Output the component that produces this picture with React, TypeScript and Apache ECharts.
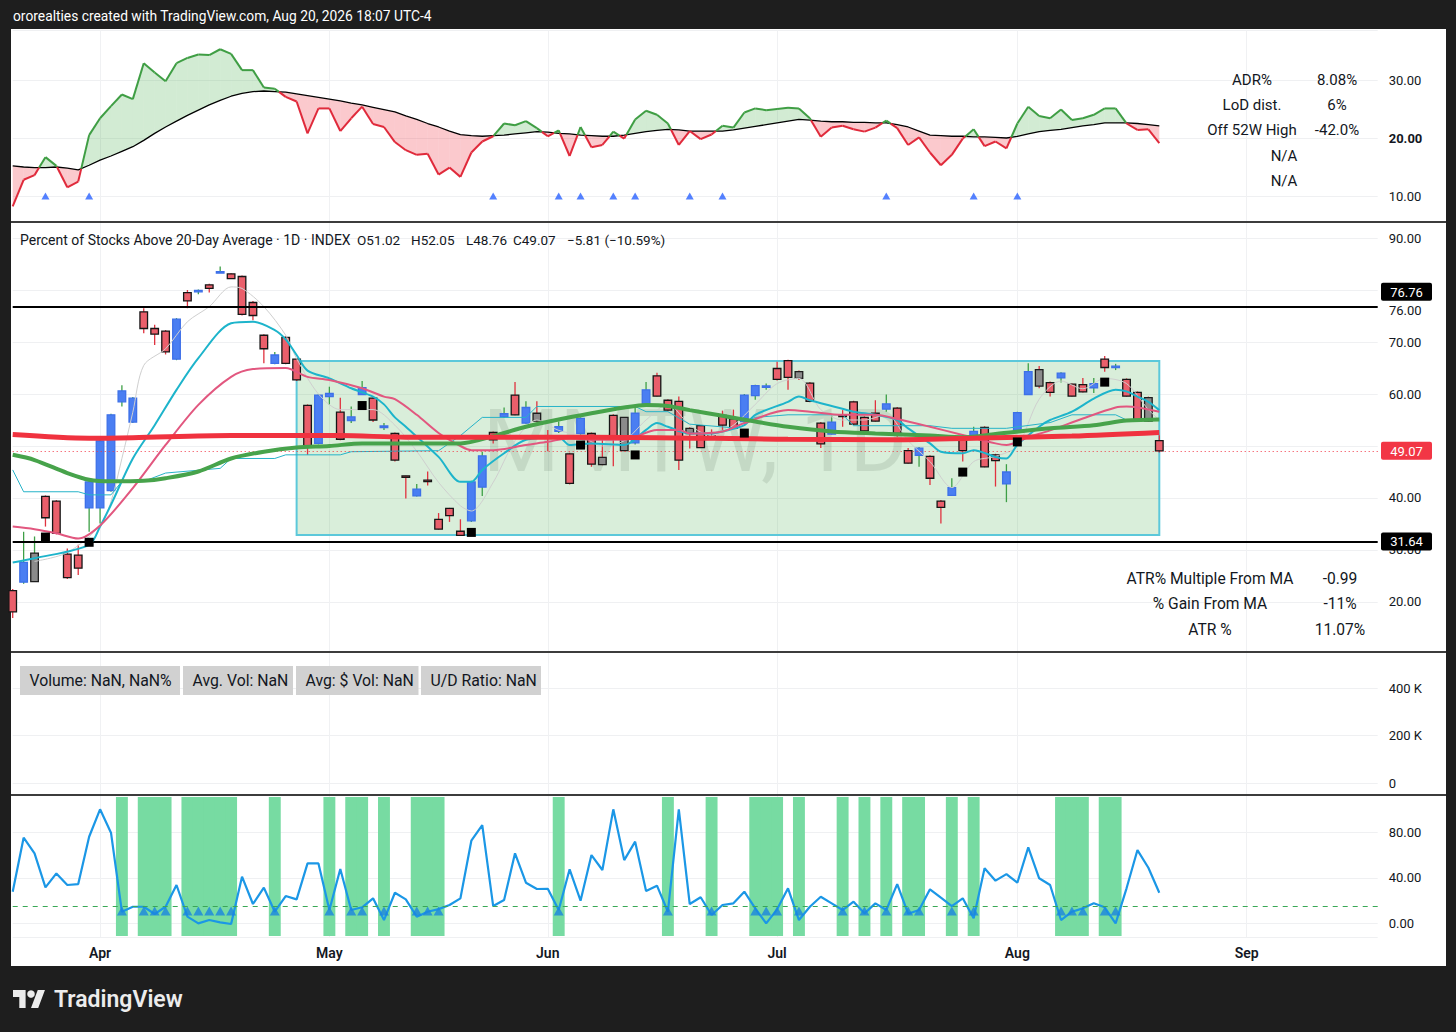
import React, { useEffect, useRef } from 'react';
import * as echarts from 'echarts';

const FONT = 'Roboto, "Noto Sans", sans-serif';
const INK = '#131722';

// ---------- calendar (category axis) ----------
const HOLIDAYS = ['2026-04-03', '2026-05-25', '2026-06-19', '2026-07-03', '2026-09-07'];
const FIRST_DAY = '2026-03-20';
const SLOT_COUNT = 126;
const MONTHS = ['Jan', 'Feb', 'Mar', 'Apr', 'May', 'Jun', 'Jul', 'Aug', 'Sep', 'Oct', 'Nov', 'Dec'];

function tradingDays(): string[] {
  const out: string[] = [];
  let t = Date.parse(FIRST_DAY + 'T00:00:00Z');
  while (out.length < SLOT_COUNT) {
    const d = new Date(t);
    const wd = d.getUTCDay();
    const iso = d.toISOString().slice(0, 10);
    if (wd !== 0 && wd !== 6 && HOLIDAYS.indexOf(iso) < 0) out.push(iso);
    t += 86400000;
  }
  return out;
}
const DATES = tradingDays();
const MONTH_START = new Set<number>();
DATES.forEach((d, i) => { if (i > 0 && d.slice(5, 7) !== DATES[i - 1].slice(5, 7)) MONTH_START.add(i); });

// ---------- main series: Percent of Stocks Above 20-Day Average ----------
const OPEN = [22.2,23.8,23.9,40.3,39.4,29.2,29.0,38.1,38.1,41.4, 58.5,54.6,75.8,72.6,72.1,66.7,79.5,79.7,81.0,83.3, 83.1,82.6,77.6,71.3,65.9,70.9,66.7,57.8,50.5,59.5, 56.5,54.9,59.9,59.2,53.6,52.4,44.2,40.4,43.4,35.9, 38.0,33.6,35.6,42.1,52.6,55.6,59.8,54.4,56.3,52.0, 52.8,48.5,52.4,52.4,47.8,55.9,55.5,50.6,58.1,63.5, 58.8,58.6,53.4,53.9,52.0,55.9,55.2,54.7,59.7,61.3, 64.9,66.4,64.3,62.1,54.4,52.3,55.9,58.5,55.5,56.3, 57.1,57.3,49.1,48.2,48.0,39.4,40.5,51.5,51.3,53.6, 48.3,42.7,53.0,59.9,64.7,62.2,63.1,61.9,61.8,61.2, 66.7,65.1,62.8,60.3,59.3,51.02];
const HIGH = [22.5,33.5,32.6,40.5,39.6,30.3,31.0,43.3,51.2,56.2, 61.7,59.4,76.5,73.3,72.3,74.6,80.0,80.1,81.2,84.5, 83.2,82.8,77.9,71.5,68.1,71.1,66.9,58.0,60.0,61.4, 59.3,57.6,62.5,59.4,54.4,52.6,44.3,42.7,45.1,37.1, 38.1,35.9,43.3,48.9,52.8,57.4,62.3,58.6,58.6,53.1, 54.7,48.7,55.5,52.6,51.5,56.1,55.6,57.6,62.3,64.1, 59.0,59.5,53.6,54.0,53.2,56.8,57.0,60.0,61.8,62.0, 66.2,66.6,64.5,62.3,54.6,55.8,56.9,58.7,55.7,58.8, 59.9,57.5,49.6,49.8,48.2,39.6,43.8,51.7,53.7,53.8, 48.5,46.5,56.6,65.9,65.4,62.4,64.2,62.0,63.1,63.1, 67.3,65.8,63.0,60.5,59.5,52.05];
const LOW = [16.9,23.5,23.9,34.5,33.0,24.4,25.2,33.5,35.1,41.2, 57.6,54.4,71.7,69.4,67.6,66.5,76.5,79.2,79.5,83.3, 82.1,75.1,74.2,65.9,65.7,65.7,62.5,48.3,50.3,57.9, 51.1,54.4,59.8,54.6,53.1,47.0,39.9,40.3,42.4,33.9, 35.4,32.7,35.4,40.4,50.5,55.4,55.9,54.3,54.7,49.0, 52.5,42.6,52.2,46.0,46.3,46.1,49.0,50.3,58.0,59.5, 56.7,45.4,49.5,49.6,51.3,53.1,53.3,54.5,58.9,60.8, 62.6,60.8,62.7,58.4,49.6,52.2,53.7,54.0,52.7,54.7, 56.6,51.8,46.6,46.0,42.5,35.1,40.4,47.0,51.2,45.9, 42.2,39.2,52.8,59.8,61.1,59.5,62.2,59.5,60.3,60.2, 64.3,64.6,59.5,54.7,54.7,48.76];
const CLOSE = [18.1,27.6,29.4,36.2,33.2,24.7,26.5,43.1,51.0,56.0, 60.6,59.2,72.6,71.5,68.1,74.4,77.9,79.9,80.3,83.5, 82.2,75.3,75.1,68.7,67.5,65.9,62.7,49.9,59.8,60.1, 51.3,55.6,61.2,55.0,53.8,47.3,44.0,41.7,43.2,34.0, 36.6,32.8,43.1,48.1,51.2,56.2,56.0,57.4,54.8,51.5, 53.7,42.8,55.3,46.5,46.4,51.9,49.1,56.3,60.8,59.6, 56.9,47.3,52.4,49.7,51.5,54.0,53.4,59.8,61.6,61.5, 62.8,63.2,63.0,58.6,50.4,54.6,55.7,54.2,52.9,54.8, 58.1,52.4,46.7,49.6,43.8,38.2,42.0,49.1,52.8,46.0, 47.2,45.0,56.4,64.3,61.5,60.3,64.0,59.6,60.4,62.0, 65.1,65.3,59.6,54.8,54.8,49.07];
// r = red, b = blue, u = grey (up), d = grey (down)
const CANDLE_KIND = 'rburrrrbbb' + 'bbrrrbrbrb' + 'rrrrbrrrbb' + 'rbbrbrrbrr' + 'rrbbrbrbdr' + 'brbrdrdbbr' + 'rrdrrrrbbb' + 'rrdrrbrrrr' + 'brrbrrbrbr' + 'rbbbdrbrrb' + 'rbrrdr';
const SQUARE_MARKERS = [3, 7, 32, 42, 52, 57, 67, 87, 92, 100];

// moving averages: [bar index, value]
const MA_FAST = [[2,27.8],[5,29.5],[8,34.7],[9,39.3],[10,47.6],[11,56.5],[12,65.5],[14,68.7],[16,73.9],[18,76.8],[20,80.6],[21,80.3],[23,76.8],[25,71.3],[26,66.8],[28,60.0],[30,57.0],[33,57.0],[35,54.0],[37,49.0],[39,43.0],[41,38.5],[42,37.5],[44,43.0],[46,51.0],[48,55.0],[50,53.0],[52,52.0],[54,50.0],[56,51.0],[58,55.0],[60,58.0],[62,54.0],[64,52.0],[66,54.0],[68,58.0],[70,62.0],[72,63.0],[74,57.0],[76,55.0],[78,55.0],[80,56.0],[82,51.0],[84,47.0],[86,42.0],[88,47.0],[90,48.0],[92,50.0],[94,59.0],[96,62.5],[98,61.0],[100,63.0],[102,62.0],[104,57.0],[105,55.0]];
const MA_10 = [[0,27.6],[2,28.4],[7,31.0],[8,34.5],[9,38.7],[11,47.6],[13,54.0],[15,60.8],[17,66.9],[20,73.6],[22,73.9],[24,72.3],[25,70.5],[26,67.5],[27,64.5],[29,63.0],[31,61.1],[33,59.5],[34,58.0],[35,55.5],[36,53.7],[39,47.9],[41,43.1],[42,43.1],[43,45.4],[45,48.6],[47,51.2],[50,51.7],[51,50.2],[53,50.5],[56,50.2],[58,53.1],[59,54.4],[60,53.7],[62,52.4],[64,52.4],[65,52.8],[67,54.0],[68,56.0],[71,58.5],[72,59.5],[73,58.8],[75,57.7],[77,56.6],[79,56.0],[81,55.0],[82,53.4],[84,50.5],[85,48.9],[87,48.6],[88,49.2],[90,47.9],[91,47.6],[92,50.2],[94,53.7],[95,55.0],[97,56.6],[99,59.1],[101,60.8],[102,60.5],[103,59.5],[104,58.5],[105,56.9]];
const MA_20 = [[0,34.5],[2,34.0],[4,33.2],[6,32.2],[8,34.7],[11,41.9],[14,50.2],[17,57.9],[20,63.3],[22,64.8],[25,65.0],[27,63.3],[29,62.7],[32,61.1],[34,59.5],[35,59.0],[37,56.0],[39,52.5],[41,50.0],[42,49.2],[44,49.2],[47,50.2],[49,50.8],[51,51.5],[53,51.2],[56,51.2],[59,53.1],[61,53.1],[62,52.4],[65,52.8],[67,54.4],[71,56.9],[73,56.6],[76,56.0],[79,56.0],[81,55.2],[84,53.7],[87,52.1],[90,50.5],[91,50.2],[93,51.7],[95,53.0],[98,55.3],[101,57.4],[102,57.6],[105,56.6]];
const MA_50 = [[0,48.3],[2,47.3],[5,44.8],[7,43.5],[9,43.2],[12,43.3],[14,43.8],[17,45.1],[20,47.6],[23,48.9],[26,49.7],[29,50.0],[32,50.5],[35,50.5],[41,50.5],[44,51.9],[47,53.7],[50,55.1],[53,56.3],[56,57.4],[58,57.9],[60,57.7],[62,56.9],[65,55.8],[68,54.7],[71,53.7],[75,52.8],[79,52.4],[84,52.0],[87,51.7],[90,52.3],[95,53.4],[99,54.0],[102,54.9],[105,55.1]];
const MA_200 = [[0,52.2],[7,51.5],[11,51.6],[20,52.0],[30,52.0],[36,51.7],[53,51.7],[71,51.3],[80,51.2],[88,51.5],[97,51.9],[105,52.6]];
const BAND_LOW = [[0,45.4],[1,41.2],[6,41.2],[7,40.6],[9,40.6],[10,43.2],[12,43.2],[14,44.8],[19,45.7],[20,47.6],[24,47.6],[25,48.3],[30,48.3],[31,48.9],[39,49.1],[41,52.0],[43,55.5],[47,55.5],[48,57.6],[57,57.6],[58,56.6],[60,56.6],[61,55.4],[62,54.2],[66,53.5],[68,55.5],[71,56.0],[76,56.0],[77,53.9],[84,53.9],[86,53.4],[91,53.4],[95,54.5],[97,56.0],[101,56.0],[102,55.0],[105,55.0]];

// drawings and price levels
const BOX_X = [26, 105];
const BOX_Y = [66.35, 32.9];
const RESISTANCE = 76.76;
const SUPPORT = 31.64;
const LAST_CLOSE = 49.07;
const EXTRA_SCALE_LABEL = 76;

// ---------- top pane: ADR-style line and its average ----------
const ADR_LINE = [8.2,12.8,13.6,16.7,15.2,11.5,12.5,20.5,23.4,25.5, 27.5,26.7,32.9,31.3,29.8,32.9,33.8,34.4,34.3,35.3, 34.5,31.7,31.7,28.7,28.5,27.1,26.3,20.8,25.1,25.1, 21.2,23.4,25.4,22.4,21.9,19.3,17.9,17.1,17.3,13.7, 14.9,13.3,17.5,19.4,20.3,22.5,22.2,22.9,21.7,20.3, 21.3,16.9,21.9,18.4,18.8,21.1,19.9,23.2,24.7,24.0, 22.5,18.8,21.2,19.8,20.6,22.1,21.8,24.4,25.1,24.8, 25.0,25.2,25.1,23.4,20.2,21.8,22.1,21.5,21.1,21.8, 23.0,21.7,18.8,20.1,17.5,15.3,17.1,19.9,21.5,18.6, 19.4,18.2,22.5,25.4,23.8,23.4,24.9,23.1,23.4,24.0, 25.1,25.1,22.5,21.4,21.5,19.1];
const ADR_AVG = [15.2,15.0,14.9,14.9,15.0,14.8,14.5,15.3,16.2,16.9, 17.7,18.5,19.6,20.8,21.9,22.9,23.9,24.8,25.7,26.5, 27.2,27.7,28.0,28.1,28.0,27.9,27.6,27.3,27.0,26.7, 26.4,26.0,25.7,25.3,24.9,24.5,23.8,23.2,22.5,21.9, 21.2,20.6,20.4,20.3,20.4,20.5,20.7,20.9,21.1,21.0, 20.8,20.7,20.5,20.4,20.3,20.3,20.5,20.8,21.1,21.3, 21.5,21.4,21.2,21.2,21.2,21.2,21.4,21.7,22.0,22.3, 22.6,22.9,23.2,23.1,22.9,22.8,22.8,22.7,22.7,22.6, 22.6,22.3,21.9,21.2,20.5,20.4,20.3,20.3,20.2,20.2, 20.1,20.0,20.3,20.7,21.1,21.3,21.5,21.8,22.1,22.3, 22.6,22.6,22.6,22.5,22.3,22.1];
const TOP_TRIANGLES = [3, 7, 44, 50, 52, 55, 57, 62, 65, 80, 88, 92];
const TOP_TRIANGLE_LEVEL = 10;

// ---------- bottom pane ----------
const OSC = [27.8,75.3,61.5,31.6,43.9,33.7,34.5,76.1,100.2,79.7, 10.2,14.6,14.6,8.2,14.6,33.7,5.9,0,2.9,0.9, -0.6,41.0,17.0,31.3,10.2,24.0,21.1,52.7,52.7,11.7, 47.7,11.7,14.1,22.0,2.9,26.9,21.1,5.9,10.2,12.5, 16.1,22.0,72.6,86.4,15.2,20.5,61.5,35.7,30.2,30.3, 11.7,47.5,19.9,60.0,46.9,100.2,55.6,71.8,28.4,33.1, 10.2,100.2,17.0,22.9,7.3,16.1,17.6,27.8,13.2,0, 12.3,30.8,2.9,14.6,23.4,17.6,11.7,19.0,8.8,17.6, 11.7,34.5,8.5,11.7,29.9,22.5,15.2,22.0,4.4,48.4, 37.5,43.3,35.7,66.8,39.6,33.7,2.9,10.2,13.2,17.6, 14.1,0,30.8,64.4,48.9,26.9];
const OSC_SIGNALS = [10,12,13,14,16,17,18,19,20,24,29,31,32,34,37,38,39,50,60,64,68,69,70,72,76,78,80,82,83,86,88,96,97,98,100,101];
const OSC_THRESHOLD = 15;
const OSC_TRIANGLE_LEVEL = 10.8;

// ---------- text ----------
const HEADER = 'ororealties created with TradingView.com, Aug 20, 2026 18:07 UTC-4';
const TITLE = 'Percent of Stocks Above 20-Day Average · 1D · INDEX';
const OHLC_TEXT = ['O51.02', 'H52.05', 'L48.76', 'C49.07', '−5.81 (−10.59%)'];
const TOP_TABLE = [['ADR%', '8.08%'], ['LoD dist.', '6%'], ['Off 52W High', '-42.0%']];
const TOP_TABLE_NA = ['N/A', 'N/A'];
const MAIN_TABLE = [['ATR% Multiple From MA', '-0.99'], ['% Gain From MA', '-11%'], ['ATR %', '11.07%']];
const VOLUME_LABELS = ['Volume: NaN, NaN%', 'Avg. Vol: NaN', 'Avg: $ Vol: NaN', 'U/D Ratio: NaN'];
const WATERMARK = 'MMTW, 1D';

const TV_LOGO_D = 'M14 22H7V11H0V4h14v18zM28 22h-8l7.5-18h8L28 22z';
echarts.graphic.registerShape('tvlogo', (echarts.graphic as any).extendPath(TV_LOGO_D, {}));

// ---------- layout ----------
const PLOT_LEFT = 12.7;
const PLOT_RIGHT = 78.3;
const KIND_STYLE: Record<string, any> = {
  r: { fill: '#ea5f6b', border: '#161616', wick: '#e0323f' },
  b: { fill: '#4a7ef2', border: '#3d70e8', wick: '#3d9f46' },
  u: { fill: '#8b8b8b', border: '#1e1e1e', wick: '#3d9f46' },
  d: { fill: '#8b8b8b', border: '#1e1e1e', wick: '#e0323f' },
};

function xAxisFor(gridIndex: number, showLabels: boolean) {
  return {
    type: 'category', gridIndex, data: DATES, boundaryGap: false,
    axisLine: { show: false }, axisTick: { show: false },
    axisLabel: {
      show: showLabels, interval: (i: number) => MONTH_START.has(i),
      formatter: (v: string) => MONTHS[Number(v.slice(5, 7)) - 1],
      color: INK, fontSize: 14, fontWeight: 600, margin: 9, fontFamily: FONT,
    },
    splitLine: { show: true, interval: (i: number) => MONTH_START.has(i), lineStyle: { color: '#f0f1f3', width: 1 } },
  };
}

function yAxisFor(gridIndex: number, min: number, max: number, step: number, fmt: any, rich?: any) {
  return {
    type: 'value', gridIndex, position: 'right', min, max, minInterval: step, maxInterval: step, splitNumber: 4,
    axisLine: { show: false }, axisTick: { show: false },
    axisLabel: { formatter: fmt, color: INK, fontSize: 13, margin: 11, fontFamily: FONT, showMinLabel: false, showMaxLabel: false, rich },
    splitLine: { lineStyle: { color: '#eff0f2', width: 1 } },
  };
}

const isMult = (v: number, s: number) => Math.abs(v / s - Math.round(v / s)) < 1e-6;

function adrSegment(api: any, i: number, mode: 'fill' | 'line') {
  const c0 = ADR_LINE[i], c1 = ADR_LINE[i + 1], b0 = ADR_AVG[i], b1 = ADR_AVG[i + 1];
  const C0 = api.coord([i, c0]), C1 = api.coord([i + 1, c1]);
  const B0 = api.coord([i, b0]), B1 = api.coord([i + 1, b1]);
  const d0 = c0 - b0, d1 = c1 - b1;
  const fillOf = (d: number) => (d >= 0 ? 'rgba(76,175,80,0.25)' : 'rgba(242,54,69,0.27)');
  const lineOf = (d: number) => (d >= 0 ? '#3f9e44' : '#e02a3b');
  const kids: any[] = [];
  const poly = (pts: number[][], d: number) => kids.push({ type: 'polygon', shape: { points: pts }, style: { fill: fillOf(d) } });
  const pl = (pts: number[][], d: number) => kids.push({ type: 'polyline', shape: { points: pts }, style: { stroke: lineOf(d), lineWidth: 2, fill: null } });
  if (d0 * d1 < 0) {
    const t = d0 / (d0 - d1);
    const X = [C0[0] + t * (C1[0] - C0[0]), C0[1] + t * (C1[1] - C0[1])];
    if (mode === 'fill') { poly([C0, X, B0], d0); poly([X, C1, B1], d1); }
    else { pl([C0, X], d0); pl([X, C1], d1); }
  } else {
    const s = Math.abs(d0) > Math.abs(d1) ? d0 : d1;
    if (mode === 'fill') poly([C0, C1, B1, B0], s);
    else pl([C0, C1], s);
  }
  return { type: 'group', children: kids };
}

function buildOption() {
  const segs = ADR_LINE.slice(0, -1).map((v, i) => [i, v]);
  const candles = OPEN.map((o, i) => [i, o, HIGH[i], LOW[i], CLOSE[i]]);
  return {
    animation: false,
    textStyle: { fontFamily: FONT },
    grid: [
      { left: PLOT_LEFT, right: PLOT_RIGHT, top: 30, height: 192, containLabel: false, outerBoundsMode: 'none' },
      { left: PLOT_LEFT, right: PLOT_RIGHT, top: 222, height: 430, containLabel: false, outerBoundsMode: 'none' },
      { left: PLOT_LEFT, right: PLOT_RIGHT, top: 652, height: 143, containLabel: false, outerBoundsMode: 'none' },
      { left: PLOT_LEFT, right: PLOT_RIGHT, top: 795, height: 142, containLabel: false, outerBoundsMode: 'none' },
    ],
    xAxis: [xAxisFor(0, false), xAxisFor(1, false), xAxisFor(2, false), xAxisFor(3, true)],
    yAxis: [
      yAxisFor(0, 5.52, 38.62, 10, (v: number) => (isMult(v, 10) && v >= 10 && v <= 30 ? (v === 20 ? '{b|20.00}' : v.toFixed(2)) : ''),
        { b: { fontWeight: 'bold', fontSize: 13, color: INK, fontFamily: FONT } }),
      // 50.00 and 80.00 sit under the price tags in the reference, so they are left blank
      yAxisFor(1, 10.38, 93.08, 10, (v: number) => (isMult(v, 10) && v >= 20 && v <= 90 && v !== 50 && v !== 80 ? v.toFixed(2) : '')),
      yAxisFor(2, -50500, 551600, 200000, (v: number) => (isMult(v, 200000) && v >= 0 && v <= 400000 ? (v === 0 ? '0' : v / 1000 + ' K') : '')),
      yAxisFor(3, -12.0, 112.8, 40, (v: number) => (isMult(v, 40) && v >= 0 && v <= 80 ? v.toFixed(2) : '')),
    ],
    series: [
      // ----- top pane -----
      {
        type: 'custom', name: 'adrFill', xAxisIndex: 0, yAxisIndex: 0, z: 2, silent: true,
        data: segs, encode: { x: 0, y: 1 },
        renderItem: (_p: any, api: any) => adrSegment(api, api.value(0), 'fill'),
      },
      {
        type: 'line', name: 'adrAvg', xAxisIndex: 0, yAxisIndex: 0, z: 3, silent: true,
        data: ADR_AVG, symbol: 'none', lineStyle: { color: '#000', width: 1.3 },
      },
      {
        type: 'custom', name: 'adrLine', xAxisIndex: 0, yAxisIndex: 0, z: 4, silent: true,
        data: segs, encode: { x: 0, y: 1 },
        renderItem: (_p: any, api: any) => adrSegment(api, api.value(0), 'line'),
      },
      {
        type: 'scatter', name: 'topSignals', xAxisIndex: 0, yAxisIndex: 0, z: 5, silent: true,
        data: TOP_TRIANGLES.map((i) => [i, TOP_TRIANGLE_LEVEL]), symbol: 'triangle', symbolSize: [8, 7],
        itemStyle: { color: '#2962ff' },
      },
      // ----- main pane -----
      {
        type: 'custom', name: 'box', xAxisIndex: 1, yAxisIndex: 1, z: 2, silent: true,
        data: [[BOX_X[0], BOX_Y[0], BOX_X[1], BOX_Y[1]]], encode: { x: [0, 2], y: [1, 3] },
        renderItem: (_p: any, api: any) => {
          const a = api.coord([api.value(0), api.value(1)]);
          const b = api.coord([api.value(2), api.value(3)]);
          return {
            type: 'rect', shape: { x: a[0], y: a[1], width: b[0] - a[0], height: b[1] - a[1] },
            style: { fill: 'rgba(76,175,80,0.21)', stroke: '#5cc8da', lineWidth: 2 },
          };
        },
      },
      {
        type: 'custom', name: 'candles', xAxisIndex: 1, yAxisIndex: 1, z: 3, silent: true,
        data: candles, encode: { x: 0, y: [1, 2, 3, 4] },
        renderItem: (_p: any, api: any) => {
          const i = api.value(0);
          const o = api.value(1), h = api.value(2), l = api.value(3), c = api.value(4);
          const st = KIND_STYLE[CANDLE_KIND[i]];
          const pO = api.coord([i, o]), pC = api.coord([i, c]), pH = api.coord([i, h]), pL = api.coord([i, l]);
          const x = pO[0];
          let top = Math.min(pO[1], pC[1]);
          let hgt = Math.abs(pO[1] - pC[1]);
          if (hgt < 1.5) { top -= (1.5 - hgt) / 2; hgt = 1.5; }
          return {
            type: 'group', children: [
              { type: 'line', shape: { x1: x, y1: pH[1], x2: x, y2: pL[1] }, style: { stroke: st.wick, lineWidth: 1.3 } },
              { type: 'rect', shape: { x: x - 3.8, y: top, width: 7.6, height: hgt }, style: { fill: st.fill, stroke: st.border, lineWidth: 1.3 } },
            ],
          };
        },
      },
      { type: 'line', name: 'fast', xAxisIndex: 1, yAxisIndex: 1, z: 4, silent: true, data: MA_FAST, symbol: 'none', smooth: 0.3, lineStyle: { color: '#cfcfcf', width: 1 } },
      { type: 'line', name: 'band', xAxisIndex: 1, yAxisIndex: 1, z: 4, silent: true, data: BAND_LOW, symbol: 'none', lineStyle: { color: '#27b3c8', width: 1 } },
      { type: 'line', name: 'ma10', xAxisIndex: 1, yAxisIndex: 1, z: 5, silent: true, data: MA_10, symbol: 'none', smooth: 0.3, lineStyle: { color: '#1db4cb', width: 2 } },
      { type: 'line', name: 'ma20', xAxisIndex: 1, yAxisIndex: 1, z: 5, silent: true, data: MA_20, symbol: 'none', smooth: 0.3, lineStyle: { color: '#e2577f', width: 2 } },
      { type: 'line', name: 'ma50', xAxisIndex: 1, yAxisIndex: 1, z: 5, silent: true, data: MA_50, symbol: 'none', smooth: 0.3, lineStyle: { color: '#47a34b', width: 4 } },
      {
        type: 'line', name: 'ma200', xAxisIndex: 1, yAxisIndex: 1, z: 5, silent: true, data: MA_200, symbol: 'none', smooth: 0.3,
        lineStyle: { color: '#f0323f', width: 5 },
        markLine: {
          silent: true, symbol: ['none', 'none'], label: { show: false },
          data: [
            { yAxis: RESISTANCE, lineStyle: { color: '#000', width: 2, type: 'solid' } },
            { yAxis: SUPPORT, lineStyle: { color: '#000', width: 2, type: 'solid' } },
            { yAxis: LAST_CLOSE, lineStyle: { color: '#f23645', width: 1, type: [1, 3] } },
          ],
        },
      },
      {
        type: 'custom', name: 'squares', xAxisIndex: 1, yAxisIndex: 1, z: 6, silent: true,
        data: SQUARE_MARKERS.map((i) => [i, LOW[i]]), encode: { x: 0, y: 1 },
        renderItem: (_p: any, api: any) => {
          const p = api.coord([api.value(0), api.value(1)]);
          return { type: 'rect', shape: { x: p[0] - 4.5, y: p[1] + 6, width: 9, height: 9 }, style: { fill: '#000' } };
        },
      },
      // ----- bottom pane -----
      {
        type: 'custom', name: 'signalsBg', xAxisIndex: 3, yAxisIndex: 3, z: 1, silent: true,
        data: OSC_SIGNALS.map((i) => [i, 0]), encode: { x: 0, y: 1 },
        renderItem: (params: any, api: any) => {
          const i = api.value(0);
          const p = api.coord([i, 0]);
          const step = api.coord([i + 1, 0])[0] - p[0];
          const cs = params.coordSys;
          return { type: 'rect', shape: { x: p[0] - step / 2 - 0.5, y: cs.y + 2, width: step + 1, height: cs.height - 3 }, style: { fill: '#77dba2' } };
        },
      },
      {
        type: 'line', name: 'osc', xAxisIndex: 3, yAxisIndex: 3, z: 3, silent: true, data: OSC, symbol: 'none',
        lineStyle: { color: '#1b97e6', width: 2.2 },
        markLine: {
          silent: true, symbol: ['none', 'none'], label: { show: false },
          data: [{ yAxis: OSC_THRESHOLD, lineStyle: { color: '#3aa856', width: 1.2, type: [5, 5] } }],
        },
      },
      {
        type: 'scatter', name: 'oscSignals', xAxisIndex: 3, yAxisIndex: 3, z: 4, silent: true,
        data: OSC_SIGNALS.map((i) => [i, OSC_TRIANGLE_LEVEL]), symbol: 'triangle', symbolSize: [10, 9],
        itemStyle: { color: '#1a84e0' },
      },
    ],
  };
}

function txt(x: number, y: number, text: string, o: any = {}, z = 100) {
  return {
    type: 'text', x, y, z, silent: true,
    style: { text, fill: INK, fontSize: 15, fontFamily: FONT, align: 'left', verticalAlign: 'middle', ...o },
  };
}

function priceTag(y: number, text: string, bg: string) {
  return [
    { type: 'rect', z: 110, silent: true, shape: { x: 1381, y: y - 9, width: 51, height: 18, r: 2 }, style: { fill: bg } },
    txt(1406.5, y + 0.5, text, { fill: '#ffffff', fontSize: 13, align: 'center' }, 120),
  ];
}

function buildGraphics(chart: any) {
  const yMain = (v: number) => chart.convertToPixel({ yAxisIndex: 1 }, v) as number;
  const g: any[] = [];
  // watermark (behind the series)
  g.push({
    type: 'text', x: 695, y: 440, z: 1, silent: true,
    style: { text: WATERMARK, fill: 'rgba(0,0,0,0.1)', fontSize: 88, fontFamily: FONT, align: 'center', verticalAlign: 'middle' },
  });
  // pane separators
  [222, 652, 795].forEach((y) => g.push({ type: 'line', z: 90, silent: true, shape: { x1: 11, y1: y, x2: 1446, y2: y }, style: { stroke: '#3c3c3c', lineWidth: 2 } }));
  // header / footer
  g.push(txt(13, 16, HEADER, { fill: '#ffffff', fontSize: 13.8 }));
  g.push({ type: 'tvlogo', x: 13, y: 986, scaleX: 0.9, scaleY: 1, z: 100, silent: true, style: { fill: '#ececec' } });
  g.push({ type: 'circle', z: 100, silent: true, shape: { cx: 13 + 20 * 0.9, cy: 994, r: 3.8 }, style: { fill: '#ececec' } });
  g.push(txt(54, 999, 'TradingView', { fill: '#ececec', fontSize: 23, fontWeight: 600 }));
  // main pane title
  g.push(txt(20, 240, TITLE, { fontSize: 14 }));
  const ohlcX = [357, 411, 466, 513, 567];
  OHLC_TEXT.forEach((t, k) => g.push(txt(ohlcX[k], 240, t, { fontSize: 13.5 })));
  // top table
  TOP_TABLE.forEach((row, k) => {
    const y = [80, 105, 130][k];
    g.push(txt(1252, y, row[0], { align: 'center' }));
    g.push(txt(1337, y, row[1], { align: 'center' }));
  });
  TOP_TABLE_NA.forEach((t, k) => g.push(txt(1284, [156, 181][k], t, { align: 'center' })));
  // main table
  MAIN_TABLE.forEach((row, k) => {
    const y = [578.5, 604, 629.5][k];
    g.push(txt(1210, y, row[0], { align: 'center', fontSize: 15.6 }));
    g.push(txt(1340, y, row[1], { align: 'center', fontSize: 15.6 }));
  });
  // volume pane labels
  const boxes = [[20, 180], [183, 293], [296, 418.5], [421, 541]];
  VOLUME_LABELS.forEach((t, k) => {
    const [a, b] = boxes[k];
    g.push({ type: 'rect', z: 100, silent: true, shape: { x: a, y: 666, width: b - a, height: 29 }, style: { fill: '#d1d1d1' } });
    g.push(txt(a + 9.5, 680.5, t, { fontSize: 15.8 }, 101));
  });
  // price scale tags
  g.push(txt(1389, yMain(EXTRA_SCALE_LABEL), EXTRA_SCALE_LABEL.toFixed(2), { fontSize: 13 }));
  priceTag(yMain(RESISTANCE) - 15, RESISTANCE.toFixed(2), '#000000').forEach((e) => g.push(e));
  priceTag(yMain(SUPPORT), SUPPORT.toFixed(2), '#000000').forEach((e) => g.push(e));
  priceTag(yMain(LAST_CLOSE), LAST_CLOSE.toFixed(2), '#f23645').forEach((e) => g.push(e));
  return g;
}

export default function App() {
  const ref = useRef<HTMLDivElement>(null);
  useEffect(() => {
    if (!ref.current) return;
    const chart = echarts.init(ref.current, null, { renderer: 'svg' });
    chart.setOption(buildOption() as any);
    chart.setOption({ graphic: buildGraphics(chart) } as any);
    return () => chart.dispose();
  }, []);
  return (
    <div style={{ position: 'fixed', left: 0, top: 0, width: 1456, height: 1032, background: '#1e1e1e' }}>
      <div style={{ position: 'absolute', left: 11, top: 29, width: 1435, height: 937, background: '#ffffff' }} />
      <div ref={ref} style={{ position: 'absolute', left: 0, top: 0, width: 1456, height: 1032 }} />
    </div>
  );
}
